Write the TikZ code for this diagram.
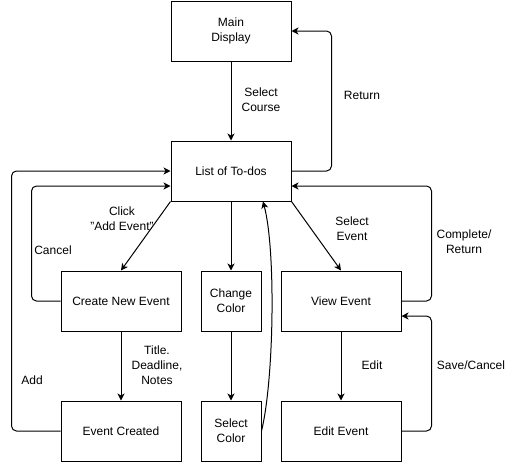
\documentclass[tikz,border=0pt]{standalone}
\usepackage{fontspec}
\setmainfont{Liberation Sans}
\usetikzlibrary{arrows.meta}
\begin{document}
\begin{tikzpicture}[x=1pt,y=-1pt,
  every node/.style={font=\fontsize{12}{15}\selectfont, align=center},
  box/.style={draw, line width=1pt, minimum width=120pt, minimum height=60pt, inner sep=0pt},
  sbox/.style={box, minimum width=60pt},
  arr/.style={line width=1pt, -{Stealth[length=7pt,width=7pt,inset=2pt]}},
  conn/.style={arr, rounded corners=5pt},
  lbl/.style={inner sep=1pt}]
\useasboundingbox (0,0) rectangle (513,466);
\node[box]  (main)     at (231,31)  {Main\\Display};
\node[box]  (list)     at (231,171) {List of To-dos};
\node[box]  (create)   at (121,301) {Create New Event};
\node[sbox] (change)   at (231,301) {Change\\Color};
\node[box]  (view)     at (341,301) {View Event};
\node[box]  (created)  at (121,431) {Event Created};
\node[sbox] (selcolor) at (231,431) {Select\\Color};
\node[box]  (edit)     at (341,431) {Edit Event};

\draw[arr] (main) -- (list);
\draw[conn] (list.east) -- ++(40,0) |- (main.east);
\draw[conn] (created.west) -- ++(-49,0) |- (list.west);
\draw[conn] (create.west) -- ++(-29,0) |- ([yshift=-15pt]list.west);
\draw[arr] (list.south west) -- (create.north);
\draw[arr] (list.south) -- (change.north);
\draw[arr] (change) -- (selcolor);
\draw[arr] (selcolor.east) .. controls (274,380) and (276,250) .. ([xshift=32pt]list.south);
\draw[arr] (list.south east) -- (view.north);
\draw[conn] (view.east) -- ++(30,0) |- ([yshift=-15pt]list.east);
\draw[arr] (view) -- (edit);
\draw[conn] (edit.east) -- ++(30,0) |- ([yshift=-15pt]view.east);
\draw[arr] (create) -- (created);

\node[lbl] (l1) at (261,100) {Select\\Course};
\node[lbl] (l2) at (362,95)  {Return};
\node[lbl] (l3) at (122,219) {Click\\"Add Event"};
\node[lbl] (l4) at (352,229) {Select\\Event};
\node[lbl] (l5) at (464,242) {Complete/\\Return};
\node[lbl] (l6) at (53,250)  {Cancel};
\node[lbl] (l7) at (157,365) {Title.\\Deadline,\\Notes};
\node[lbl] (l8) at (32,380)  {Add};
\node[lbl] (l9) at (372,365) {Edit};
\node[lbl] (l10) at (471,365) {Save/Cancel};
\end{tikzpicture}
\end{document}
